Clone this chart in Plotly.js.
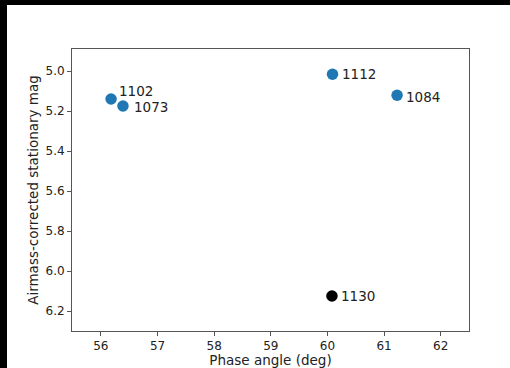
<!DOCTYPE html>
<html><head><meta charset="utf-8">
<script src="https://cdn.plot.ly/plotly-3.0.1.min.js"></script>
<style>
html,body{margin:0;padding:0;background:#000;width:510px;height:368px;overflow:hidden}
#chart{position:absolute;left:7px;top:5px;width:503px;height:363px;background:#fff}
</style></head><body><div id="chart"></div>
<script>
// Data
const labels = ['1102', '1073', '1112', '1084', '1130'];
const phaseAngle = [56.18, 56.39, 60.09, 61.23, 60.08];
const mag = [5.14, 5.175, 5.016, 5.121, 6.125];
const pointColors = ['#1f77b4', '#1f77b4', '#1f77b4', '#1f77b4', '#000000'];
const xTicks = [56, 57, 58, 59, 60, 61, 62];
const yTicks = [5.0, 5.2, 5.4, 5.6, 5.8, 6.0, 6.2];

// label offsets (style only, pixels)
const labelShift = [[6, 8], [9, -1], [7, 0], [7, -2], [7, 0]];

const font = 'DejaVu Sans, sans-serif';
const trace = {
  x: phaseAngle, y: mag, mode: 'markers', type: 'scatter',
  marker: {size: 11.5, color: pointColors, line: {width: 0}},
  hoverinfo: 'skip', showlegend: false
};
const annotations = labels.map((t, i) => ({
  x: phaseAngle[i], y: mag[i], xref: 'x', yref: 'y', text: t,
  showarrow: false, xanchor: 'left', yanchor: 'middle',
  xshift: labelShift[i][0], yshift: labelShift[i][1],
  font: {family: font, size: 13.5, color: '#222'}
}));
const axisCommon = {
  showline: true, mirror: true, linecolor: '#555', linewidth: 1,
  ticks: 'outside', ticklen: 4, tickcolor: '#555', tickwidth: 1,
  showgrid: false, zeroline: false,
  tickfont: {family: font, size: 12, color: '#222'}
};
const layout = {
  width: 503, height: 363,
  margin: {l: 65, r: 41, t: 44, b: 37},
  paper_bgcolor: '#fff', plot_bgcolor: '#fff',
  xaxis: Object.assign({}, axisCommon, {
    range: [55.49, 62.5], tickvals: xTicks, ticktext: xTicks.map(String),
    title: {text: 'Phase angle (deg)', font: {family: font, size: 13.5, color: '#222'}, standoff: 4}
  }),
  yaxis: Object.assign({}, axisCommon, {
    range: [6.30, 4.89], tickvals: yTicks, ticktext: yTicks.map(v => v.toFixed(1)),
    title: {text: 'Airmass-corrected stationary mag', font: {family: font, size: 13.5, color: '#222'}, standoff: 3}
  }),
  annotations: annotations
};
Plotly.newPlot('chart', [trace], layout, {displayModeBar: false, staticPlot: true});
</script></body></html>
